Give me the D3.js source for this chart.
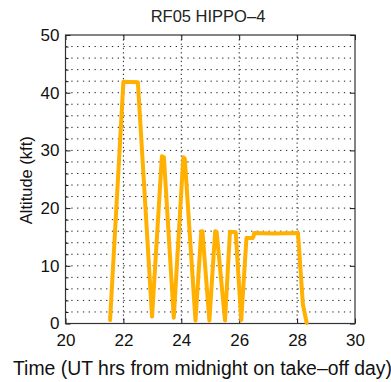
<!DOCTYPE html>
<html><head><meta charset="utf-8">
<script src="https://cdn.jsdelivr.net/npm/d3@7"></script>
<style>body{margin:0;background:#fff}svg{display:block}text{font-family:"Liberation Sans",Arial,sans-serif}</style>
</head><body>
<svg id="c" width="391" height="382"></svg>
<script>
const title = "RF05 HIPPO–4";
const xLabel = "Time (UT hrs from midnight on take–off day)";
const yLabel = "Altitude (kft)";
const xTicks = [20, 22, 24, 26, 28, 30];
const yTicks = [0, 10, 20, 30, 40, 50];
const yMinor = [2,4,6,8,12,14,16,18,22,24,26,28,32,34,36,38,42,44,46,48];
const timeHrs = [21.54, 22.0, 22.5, 22.99, 23.33, 23.4, 23.74, 24.07, 24.12, 24.49, 24.69, 24.73, 24.97, 25.17, 25.22, 25.51, 25.68, 25.88, 26.07, 26.25, 26.47, 26.5, 26.52, 27.2, 28.03, 28.2, 28.33];
const altKft = [0.6, 41.9, 41.8, 1.2, 29.0, 28.8, 1.0, 28.8, 28.6, 0.5, 16.0, 16.0, 0.5, 16.0, 15.9, 0.5, 15.9, 15.8, 0.6, 14.8, 14.8, 15.2, 15.7, 15.6, 15.7, 3.3, 0.1];

const svg = d3.select("#c");
const L = 65.5, R = 355, T = 35, B = 323.5;
const x = d3.scaleLinear().domain([20, 30]).range([L, R]);
const y = d3.scaleLinear().domain([0, 50]).range([B, T]);

// grid
const g = svg.append("g");
g.selectAll(".hg").data(yMinor.concat(yTicks.slice(1, -1))).enter().append("line")
  .attr("x1", L).attr("x2", R).attr("y1", d => y(d)).attr("y2", d => y(d))
  .attr("stroke", "#222").attr("stroke-width", 1).attr("stroke-dasharray", "1.3,4.5");
g.selectAll(".vg").data(xTicks.slice(1, -1)).enter().append("line")
  .attr("y1", T).attr("y2", B).attr("x1", d => x(d)).attr("x2", d => x(d))
  .attr("stroke", "#222").attr("stroke-width", 1).attr("stroke-dasharray", "1.3,3");

// axes
const fs = "17px";
const ax = svg.append("g").attr("transform", `translate(0,${B})`)
  .call(d3.axisBottom(x).tickValues(xTicks).tickSize(-5).tickPadding(10).tickFormat(d3.format("d")));
const axT = svg.append("g").attr("transform", `translate(0,${T})`)
  .call(d3.axisTop(x).tickValues(xTicks).tickSize(-5).tickFormat(""));
const ay = svg.append("g").attr("transform", `translate(${L},0)`)
  .call(d3.axisLeft(y).tickValues(yTicks).tickSize(-5).tickPadding(6).tickFormat(d3.format("d")));
const ayMinor = svg.append("g").attr("transform", `translate(${L},0)`)
  .call(d3.axisLeft(y).tickValues(yMinor).tickSize(-3).tickFormat(""));
const ayR = svg.append("g").attr("transform", `translate(${R},0)`)
  .call(d3.axisRight(y).tickValues(yTicks).tickSize(-5).tickFormat(""));
[ax, axT, ay, ayMinor, ayR].forEach(a => {
  a.select(".domain").remove();
  a.selectAll("line").attr("stroke", "#111");
  a.selectAll("text").attr("fill", "#111").style("font-size", fs).style("font-family", '"Liberation Sans",Arial,sans-serif');
});
svg.append("rect").attr("x", L).attr("y", T).attr("width", R - L).attr("height", B - T)
  .attr("fill", "none").attr("stroke", "#333").attr("stroke-width", 1.2);

// line
svg.append("path").datum(timeHrs.map((t, i) => [t, altKft[i]]))
  .attr("d", d3.line().x(d => x(d[0])).y(d => y(d[1])))
  .attr("fill", "none").attr("stroke", "#FFB000").attr("stroke-width", 4)
  .attr("stroke-linejoin", "round").attr("stroke-linecap", "round");

// texts
svg.append("text").attr("x", 208).attr("y", 22).attr("text-anchor", "middle")
  .style("font-size", "16.5px").attr("fill", "#222").text(title);
svg.append("text").attr("transform", `translate(32,${(T + B) / 2 + 1}) rotate(-90)`).attr("text-anchor", "middle")
  .style("font-size", "16.5px").attr("fill", "#111").text(yLabel);
svg.append("text").attr("x", 13).attr("y", 375)
  .style("font-size", "19.4px").attr("fill", "#111").text(xLabel);
</script>
</body></html>
